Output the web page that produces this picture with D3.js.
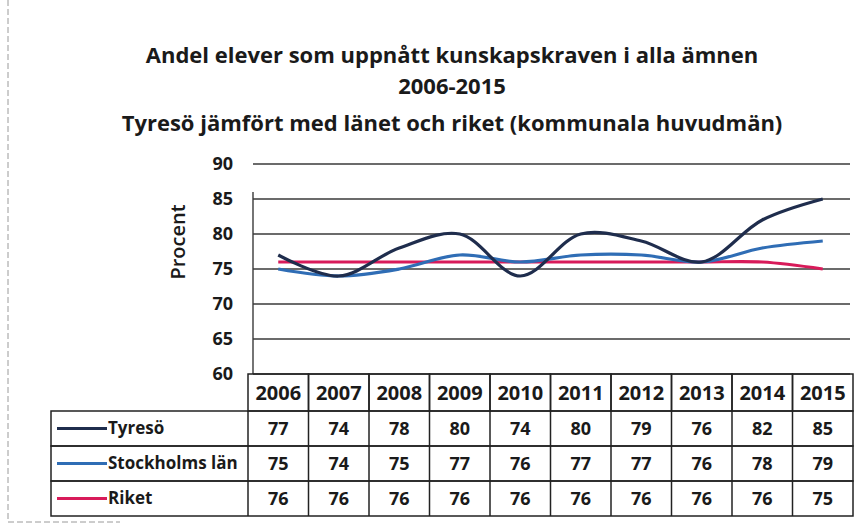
<!DOCTYPE html>
<html lang="sv">
<head>
    <meta charset="UTF-8">
    <title>Andel elever</title>
</head>
<style>
    body { margin: 0; background: #fff; }
    text { font-family: "Open Sans", Lato, sans-serif; fill: #1a1a1a; font-weight: bold; }
    line.grid { stroke: #3a3a3a; stroke-width: 1.4px; }
    line.cell { stroke: #222; stroke-width: 1.5px; }
</style>
<body>
<script src='https://d3js.org/d3.v7.min.js'></script>
<script>
    const width = 868, height = 527;

    const years = ["2006", "2007", "2008", "2009", "2010", "2011", "2012", "2013", "2014", "2015"];
    const tyreso = [77, 74, 78, 80, 74, 80, 79, 76, 82, 85];
    const stockholm = [75, 74, 75, 77, 76, 77, 77, 76, 78, 79];
    const riket = [76, 76, 76, 76, 76, 76, 76, 76, 76, 75];
    const yTicks = [60, 65, 70, 75, 80, 85, 90];
    const titleLines = [
        "Andel elever som uppnått kunskapskraven i alla ämnen",
        "2006-2015",
        "Tyresö jämfört med länet och riket (kommunala huvudmän)"
    ];

    const series = [
        {name: "Tyresö", values: tyreso, color: "#1f2d4d"},
        {name: "Stockholms län", values: stockholm, color: "#2f6db5"},
        {name: "Riket", values: riket, color: "#d81b5a"}
    ];

    const svg = d3.select("body")
        .append("svg")
        .attr("width", width)
        .attr("height", height);

    // frame left from the scan
    svg.append("line")
        .attr("x1", 8).attr("x2", 8).attr("y1", 0).attr("y2", 522)
        .attr("stroke", "#9a9a9a").attr("stroke-dasharray", "6,3");
    svg.append("line")
        .attr("x1", 8).attr("x2", 120).attr("y1", 522).attr("y2", 522)
        .attr("stroke", "#9a9a9a").attr("stroke-dasharray", "6,3");

    const x = d3.scaleBand().domain(years).range([248, 853]);
    const y = d3.scaleLinear().domain([60, 90]).range([374, 164]);

    // title
    svg.selectAll("text.title")
        .data(titleLines)
        .enter().append("text")
        .attr("class", "title")
        .attr("x", 452)
        .attr("y", function (d, i) { return [63, 94, 131][i]; })
        .attr("text-anchor", "middle")
        .style("font-size", "22px")
        .text(function (d) { return d; });

    // grid
    svg.selectAll("line.grid")
        .data(yTicks)
        .enter().append("line")
        .attr("class", "grid")
        .attr("x1", 253)
        .attr("x2", 850)
        .attr("y1", function (d) { return y(d); })
        .attr("y2", function (d) { return y(d); });

    svg.append("line")
        .attr("class", "grid")
        .attr("x1", 253).attr("x2", 253)
        .attr("y1", y(86)).attr("y2", y(60));

    svg.selectAll("text.ytick")
        .data(yTicks)
        .enter().append("text")
        .attr("class", "ytick")
        .attr("x", 233)
        .attr("y", function (d) { return y(d); })
        .attr("dy", "0.35em")
        .attr("text-anchor", "end")
        .style("font-size", "18px")
        .text(function (d) { return d; });

    svg.append("text")
        .attr("transform", "translate(185," + 242 + ") rotate(-90)")
        .attr("text-anchor", "middle")
        .style("font-size", "20px")
        .style("font-weight", "600")
        .text("Procent");

    // lines
    const line = d3.line()
        .x(function (d, i) { return x(years[i]) + x.bandwidth() / 2; })
        .y(function (d) { return y(d); })
        .curve(d3.curveCatmullRom.alpha(0.5));

    svg.selectAll("path.series")
        .data(series.slice().reverse())
        .enter().append("path")
        .attr("class", "series")
        .attr("fill", "none")
        .attr("stroke", function (d) { return d.color; })
        .attr("stroke-width", 3.2)
        .attr("d", function (d) { return line(d.values); });

    // data table
    const headTop = 374, headBottom = 411;
    const rowH = 35;
    const labelLeft = 51;
    const tableBottom = headBottom + rowH * series.length;

    const tbl = svg.append("g");

    // header cells
    years.forEach(function (yr) {
        tbl.append("rect")
            .attr("x", x(yr)).attr("y", headTop)
            .attr("width", x.bandwidth()).attr("height", headBottom - headTop)
            .attr("fill", "none").attr("stroke", "#222").attr("stroke-width", 1.5);
        tbl.append("text")
            .attr("x", x(yr) + x.bandwidth() / 2)
            .attr("y", (headTop + headBottom) / 2)
            .attr("dy", "0.35em")
            .attr("text-anchor", "middle")
            .style("font-size", "20px")
            .text(yr);
    });

    series.forEach(function (s, r) {
        const top = headBottom + r * rowH;
        const mid = top + rowH / 2;
        tbl.append("rect")
            .attr("x", labelLeft).attr("y", top)
            .attr("width", x.range()[1] - labelLeft).attr("height", rowH)
            .attr("fill", "none").attr("stroke", "#222").attr("stroke-width", 1.5);
        tbl.append("line")
            .attr("x1", 57).attr("x2", 107)
            .attr("y1", mid).attr("y2", mid)
            .attr("stroke", s.color).attr("stroke-width", 3);
        tbl.append("text")
            .attr("x", 108).attr("y", mid)
            .attr("dy", "0.35em")
            .style("font-size", "17px")
            .text(s.name);
        s.values.forEach(function (v, i) {
            tbl.append("text")
                .attr("x", x(years[i]) + x.bandwidth() / 2)
                .attr("y", mid)
                .attr("dy", "0.35em")
                .attr("text-anchor", "middle")
                .style("font-size", "18px")
                .text(v);
        });
    });

    years.forEach(function (yr) {
        tbl.append("line")
            .attr("class", "cell")
            .attr("x1", x(yr)).attr("x2", x(yr))
            .attr("y1", headBottom).attr("y2", tableBottom);
    });
</script>
</body>
</html>
